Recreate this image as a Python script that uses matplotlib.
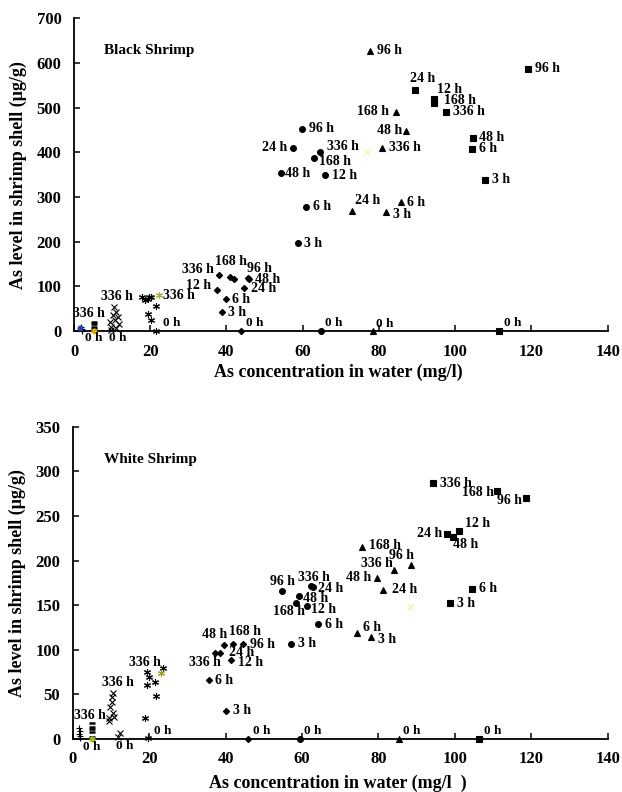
import matplotlib.pyplot as plt

plt.rcParams['font.family'] = ['Liberation Serif', 'DejaVu Serif']
plt.rcParams['font.weight'] = 'bold'

hours = ['0 h', '3 h', '6 h', '12 h', '24 h', '48 h', '96 h', '168 h', '336 h']

# ---------------- Black shrimp (top) ----------------
bk_sq_x = [111.5, 107.8, 104.5, 94.4, 89.4, 104.6, 119.0, 94.4, 97.5]
bk_sq_y = [0, 338, 408, 519, 540, 432, 587, 511, 491]

bk_tri_x = [78.5, 81.9, 85.8, 73.0, 87.2, 77.6, 84.4, 80.9]
bk_tri_y = [0, 267, 288, 269, 447, 627, 491, 410]
bk_tri_lab = ['0 h', '3 h', '6 h', '24 h', '48 h', '96 h', '168 h', '336 h']

bk_cir_x = [64.8, 58.7, 60.9, 65.9, 57.5, 54.4, 59.7, 62.9, 64.4]
bk_cir_y = [0, 196, 278, 349, 409, 353, 453, 387, 401]

bk_dia_x = [43.7, 38.8, 39.9, 37.5, 44.6, 45.8, 45.6, 40.9, 38.1, 42.0]
bk_dia_y = [0, 42.5, 71, 92.5, 95.5, 117, 119, 121.5, 124.6, 116.3]
bk_dia_lab = hours + ['']

bk_x_x = [9.8, 9.8, 11.1, 11.7, 9.4, 10.7, 11.5, 10.2, 11.1, 10.5]
bk_x_y = [2, 9.6, 6, 15.7, 20.8, 24.6, 32, 35.8, 43.2, 54.4]
bk_x_lab = ['0 h'] + [''] * 8 + ['336 h']

bk_st_x = [21.6, 20.3, 19.5, 21.5, 17.9, 18.7, 19.4, 19.8, 20.3]
bk_st_y = [0, 24.6, 37.3, 56.6, 76.8, 69.4, 70.9, 76.8, 75.3]
bk_st_lab = ['0 h'] + [''] * 8

bk_plus_x = [1.8, 2.2, 2.0]
bk_plus_y = [9, 4, 1]
bk_dash_x = [5.3, 5.3, 5.3, 5.3]
bk_dash_y = [20.9, 15.7, 9.7, 3.7]
bk_dash_lab = ['336 h', '', '', '']

# odd coloured points
bk_blue = ([1.6], [6])
bk_orange = ([5.3], [0])
bk_olive = ([22.4], [80.5])
bk_pale = ([76.9], [400])

# ---------------- White shrimp (bottom) ----------------
wh_sq_x = [106.4, 98.6, 104.5, 101.1, 98.0, 99.6, 118.6, 111.1, 94.2]
wh_sq_y = [0, 152.8, 168.5, 233.5, 229.8, 226.8, 270.5, 278, 287]

wh_tri_x = [85.3, 78.0, 74.5, 81.3, 79.5, 88.4, 75.6, 84.2]
wh_tri_y = [0, 114.4, 118.5, 167, 180.8, 194.7, 215.6, 189.5]
wh_tri_lab = ['0 h', '3 h', '6 h', '24 h', '48 h', '96 h', '168 h', '336 h']

wh_cir_x = [59.5, 57.2, 64.3, 61.2, 63.0, 59.1, 54.8, 58.4, 62.3]
wh_cir_y = [0, 106.5, 128.6, 149.4, 170, 160.3, 166, 152.8, 171]

wh_dia_x = [45.9, 40.2, 35.6, 41.3, 38.5, 39.6, 44.6, 41.9, 37.1]
wh_dia_y = [0, 31.7, 66.1, 88.6, 96.1, 105.4, 106.2, 106.5, 96.8]

wh_x_x = [11.8, 12.4, 9.4, 9.6, 10.7, 10.5, 9.8, 10.2, 10.2, 10.5]
wh_x_y = [1.9, 7, 20.2, 23.2, 25, 28.8, 36.2, 41.8, 46.7, 51.2]
wh_x_lab = ['0 h'] + [''] * 8 + ['336 h']

wh_st_x = [19.8, 18.9, 21.8, 19.3, 21.5, 20.0, 19.4, 23.5]
wh_st_y = [1.5, 23.2, 47.9, 60.2, 63.9, 69.9, 75.5, 79.3]
wh_st_lab = ['0 h'] + [''] * 6 + ['336 h']

wh_plus_x = [1.7, 1.9, 1.6, 2.0, 1.8]
wh_plus_y = [12, 9, 6, 3, 1]
wh_dash_x = [5.0, 5.0, 5.0, 5.0, 5.0]
wh_dash_y = [17.6, 13.8, 11.2, 8.2, 2.6]
wh_dash_lab = ['336 h', '', '', '', '']

wh_green = ([5.0], [0])
wh_olive = ([23.1], [73.7])
wh_pale = ([88.3], [147.6])

# label offsets in pixels (dx, dy, ha) -- layout only
bk_sq_off = [(5, 8, 'left'), (7, 0, 'left'), (7, 0, 'left'), (3, 10, 'left'), (-5, 11, 'left'),
             (6, 0, 'left'), (7, 0, 'left'), (10, 2, 'left'), (7, 0, 'left')]
bk_tri_off = [(3, 7, 'left'), (7, -3, 'left'), (6, 0, 'left'), (3, 10, 'left'), (-4, 1, 'right'),
              (7, 0, 'left'), (-7, 0, 'right'), (7, 0, 'left')]
bk_cir_off = [(4, 8, 'left'), (6, 0, 'left'), (7, 0, 'left'), (7, 0, 'left'), (-6, 1, 'right'),
              (4, 0, 'left'), (7, 0, 'left'), (5, -3, 'left'), (7, 5, 'left')]
bk_dia_off = [(5, 8, 'left'), (6, 0, 'left'), (6, 0, 'left'), (-6, 4, 'right'), (7, 0, 'left'),
              (6, -1, 'left'), (-1, 9, 'left'), (1, 15, 'center'), (-5, 6, 'right'), (0, 0, 'left')]
bk_x_off = [(-2, -8, 'left')] + [(0, 0, 'left')] * 8 + [(3, 10, 'center')]
bk_st_off = [(7, 8, 'left')] + [(0, 0, 'left')] * 8
bk_dash_off = [(-5, 8, 'center')] + [(0, 0, 'left')] * 3

wh_sq_off = [(5, 8, 'left'), (7, -1, 'left'), (7, 0, 'left'), (6, 7, 'left'), (-5, 1, 'right'),
             (0, -8, 'left'), (-4, -3, 'right'), (-3, -1, 'right'), (7, 0, 'left')]
wh_tri_off = [(4, 8, 'left'), (7, -3, 'left'), (6, 6, 'left'), (9, 1, 'left'), (-5, 0, 'right'),
              (3, 10, 'right'), (7, 1, 'left'), (-2, 6, 'right')]
wh_cir_off = [(4, 8, 'left'), (7, 0, 'left'), (7, 0, 'left'), (4, -4, 'left'), (5, -1, 'left'),
              (4, -2, 'left'), (0, 9, 'center'), (9, -9, 'right'), (3, 9, 'center')]
wh_dia_off = [(5, 8, 'left'), (7, 0, 'left'), (6, 0, 'left'), (7, -3, 'left'), (9, 1, 'left'),
              (3, 10, 'right'), (7, 0, 'left'), (-4, 12, 'left'), (6, -10, 'right')]
wh_x_off = [(-2, -9, 'left')] + [(0, 0, 'left')] * 8 + [(5, 11, 'center')]
wh_st_off = [(6, 7, 'left')] + [(0, 0, 'left')] * 6 + [(-2, 6, 'right')]
wh_dash_off = [(-2, 8, 'center')] + [(0, 0, 'left')] * 4


def series(ax, xs, ys, labels, offsets, marker, ms, mew=0.8):
    ax.plot(xs, ys, linestyle='none', marker=marker, ms=ms, color='black',
            mew=mew, clip_on=False, zorder=3)
    for x, y, lab, (dx, dy, ha) in zip(xs, ys, labels, offsets):
        if not lab:
            continue
        size = 9.5 if lab == '0 h' else 10
        ax.annotate(lab, (x, y), xytext=(dx, dy), textcoords='offset pixels',
                    ha=ha, va='center', fontsize=size, fontweight='bold',
                    annotation_clip=False)


def odd(ax, pt, marker, color, ms):
    ax.plot(pt[0], pt[1], linestyle='none', marker=marker, ms=ms, color=color,
            mew=0.8, clip_on=False, zorder=3)


def style(ax, ymax, ystep, title, tx, ty, xlab):
    ax.set_xlim(0, 140)
    ax.set_ylim(0, ymax)
    ax.set_xticks(range(0, 141, 20))
    ax.set_yticks(range(0, ymax + 1, ystep))
    for s in ['top', 'right']:
        ax.spines[s].set_visible(False)
    for s in ['left', 'bottom']:
        ax.spines[s].set_linewidth(1.3)
    ax.tick_params(direction='in', length=4.5, width=1.1, labelsize=12, pad=9)
    ax.text(tx, ty, title, fontsize=11, fontweight='bold', va='center')
    ax.set_xlabel(xlab, fontsize=13, fontweight='bold')
    ax.set_ylabel('As level in shrimp shell (\u03bcg/g)', fontsize=13, fontweight='bold')
    ax.xaxis.set_label_coords(0.496, -0.105)
    ax.yaxis.set_label_coords(-0.088, 0.5)


fig = plt.figure(figsize=(6.22, 7.92), dpi=100)
ax1 = fig.add_axes([0.119, 0.582, 0.858, 0.395])
ax2 = fig.add_axes([0.117, 0.067, 0.860, 0.394])

# top panel
series(ax1, bk_sq_x, bk_sq_y, hours, bk_sq_off, 's', 4.5)
series(ax1, bk_tri_x, bk_tri_y, bk_tri_lab, bk_tri_off, '^', 4.5)
series(ax1, bk_cir_x, bk_cir_y, hours, bk_cir_off, 'o', 4.2)
series(ax1, bk_dia_x, bk_dia_y, bk_dia_lab, bk_dia_off, 'D', 3.2)
series(ax1, bk_x_x, bk_x_y, bk_x_lab, bk_x_off, 'x', 4.5)
series(ax1, bk_st_x, bk_st_y, bk_st_lab, bk_st_off, (6, 2, 0), 5)
series(ax1, bk_plus_x, bk_plus_y, ['', '', ''], [(0, 0, 'left')] * 3, '+', 4.5)
series(ax1, bk_dash_x, bk_dash_y, bk_dash_lab, bk_dash_off, '_', 5, mew=1.8)
odd(ax1, bk_blue, 'o', '#2040c0', 3.5)
odd(ax1, bk_orange, 'o', '#e0b000', 3.5)
ax1.annotate('0 h', (bk_orange[0][0], 0), xytext=(-9, -7), textcoords='offset pixels',
             ha='left', va='center', fontsize=9.5, fontweight='bold', annotation_clip=False)
odd(ax1, bk_olive, (6, 2, 0), '#b0a830', 5)
ax1.annotate('336 h', (bk_olive[0][0], bk_olive[1][0]), xytext=(4, 0), textcoords='offset pixels',
             ha='left', va='center', fontsize=10, fontweight='bold', annotation_clip=False)
odd(ax1, bk_pale, 'x', '#f4f0a0', 4)
style(ax1, 700, 100, 'Black Shrimp', 7.8, 628, 'As concentration in water (mg/l)')

# bottom panel
series(ax2, wh_sq_x, wh_sq_y, hours, wh_sq_off, 's', 4.5)
series(ax2, wh_tri_x, wh_tri_y, wh_tri_lab, wh_tri_off, '^', 4.5)
series(ax2, wh_cir_x, wh_cir_y, hours, wh_cir_off, 'o', 4.2)
series(ax2, wh_dia_x, wh_dia_y, hours, wh_dia_off, 'D', 3.2)
series(ax2, wh_x_x, wh_x_y, wh_x_lab, wh_x_off, 'x', 4.5)
series(ax2, wh_st_x, wh_st_y, wh_st_lab, wh_st_off, (6, 2, 0), 5)
series(ax2, wh_plus_x, wh_plus_y, [''] * 5, [(0, 0, 'left')] * 5, '+', 4.5)
series(ax2, wh_dash_x, wh_dash_y, wh_dash_lab, wh_dash_off, '_', 5, mew=1.8)
odd(ax2, wh_green, 'o', '#a0c020', 3.5)
ax2.annotate('0 h', (wh_green[0][0], 0), xytext=(-9, -8), textcoords='offset pixels',
             ha='left', va='center', fontsize=9.5, fontweight='bold', annotation_clip=False)
odd(ax2, wh_olive, (6, 2, 0), '#a0a020', 5)
odd(ax2, wh_pale, 'x', '#f4f0a0', 4)
style(ax2, 350, 50, 'White Shrimp', 8.1, 313.6, 'As concentration in water (mg/l  )')
ax2.xaxis.set_label_coords(0.496, -0.115)

fig.savefig('out.png', dpi=100)
